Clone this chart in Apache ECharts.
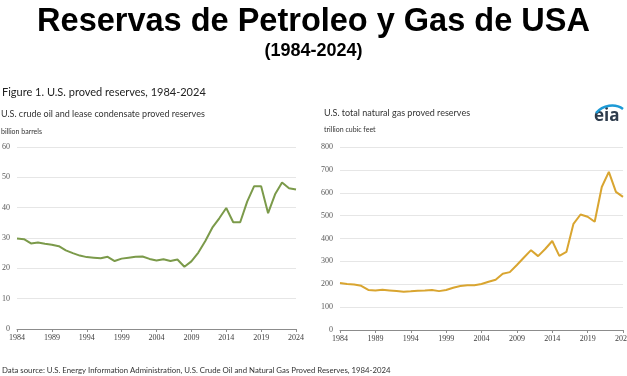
<!DOCTYPE html>
<html>
<head>
<meta charset="utf-8">
<script src="https://cdn.jsdelivr.net/npm/echarts@6/dist/echarts.min.js"></script>
<style>
  html, body { margin: 0; padding: 0; background: #fff; }
  #chart { width: 627px; height: 376px; }
</style>
</head>
<body>
<div id="chart"></div>
<script>
// years 1984..2024
var years = [];
for (var y = 1984; y <= 2024; y++) years.push(String(y));

// billion barrels
var oilReserves = [29.8, 29.6, 28.2, 28.5, 28.1, 27.8, 27.3, 25.9, 25.0, 24.2,
  23.7, 23.5, 23.3, 23.8, 22.4, 23.2, 23.5, 23.8, 23.9, 23.1,
  22.6, 23.0, 22.4, 22.9, 20.5, 22.3, 25.2, 29.0, 33.4, 36.5,
  39.9, 35.2, 35.2, 42.0, 47.1, 47.1, 38.2, 44.4, 48.3, 46.4, 46.0];

// trillion cubic feet
var gasReserves = [205, 201, 199, 193, 175, 173, 176, 173, 170, 167,
  169, 172, 173, 175, 170, 175, 185, 192, 196, 196,
  201, 211, 220, 246, 253, 284, 317, 349, 323, 354,
  389, 324, 341, 464, 505, 495, 473, 625, 691, 604, 582];

var labelFont = 'Liberation Serif';
var textFont = 'Lato';

function xAxisCfg(idx) {
  return {
    type: 'category',
    gridIndex: idx,
    data: years,
    boundaryGap: false,
    axisLine: { lineStyle: { color: '#8c8c8c', width: 1 } },
    axisTick: { show: true, interval: 4, length: 3, inside: false, lineStyle: { color: '#8c8c8c' } },
    axisLabel: { interval: 4, color: '#404040', fontSize: 8, fontFamily: labelFont, margin: 5 },
    splitLine: { show: false }
  };
}

function yAxisCfg(idx, max, step) {
  return {
    type: 'value',
    gridIndex: idx,
    min: 0,
    max: max,
    interval: step,
    axisLine: { show: false },
    axisTick: { show: false },
    axisLabel: { color: '#595959', fontSize: 8, fontFamily: labelFont, margin: 7 },
    splitLine: { lineStyle: { color: '#e6e6e6', width: 1 } }
  };
}

var chart = echarts.init(document.getElementById('chart'));
chart.setOption({
  animation: false,
  backgroundColor: '#fff',
  title: [
    {
      text: 'Reservas de Petroleo y Gas de USA',
      left: 'center', top: 1,
      textStyle: { fontSize: 32.5, fontWeight: 'bold', fontFamily: 'Liberation Sans', color: '#000' }
    },
    {
      text: '(1984-2024)',
      left: 'center', top: 37,
      textStyle: { fontSize: 18, fontWeight: 'bold', fontFamily: 'Liberation Sans', color: '#000' }
    },
    {
      text: 'Figure 1. U.S. proved reserves, 1984-2024',
      left: -3, top: 82,
      textStyle: { fontSize: 11, fontWeight: 'normal', fontFamily: textFont, color: '#222' }
    },
    {
      text: 'U.S. crude oil and lease condensate proved reserves',
      left: -4, top: 105,
      textStyle: { fontSize: 9, fontWeight: 'normal', fontFamily: textFont, color: '#333' }
    },
    {
      text: 'billion barrels',
      left: -4, top: 123,
      textStyle: { fontSize: 7, fontWeight: 'normal', fontFamily: textFont, color: '#333' }
    },
    {
      text: 'U.S. total natural gas proved reserves',
      left: 319, top: 104,
      textStyle: { fontSize: 9, fontWeight: 'normal', fontFamily: textFont, color: '#333' }
    },
    {
      text: 'trillion cubic feet',
      left: 319, top: 121,
      textStyle: { fontSize: 7, fontWeight: 'normal', fontFamily: textFont, color: '#333' }
    },
    {
      text: 'Data source: U.S. Energy Information Administration, U.S. Crude Oil and Natural Gas Proved Reserves, 1984-2024',
      left: -3, top: 361,
      textStyle: { fontSize: 7.8, fontWeight: 'normal', fontFamily: textFont, color: '#333' }
    }
  ],
  graphic: [
    {
      type: 'text', left: 594, top: 108,
      style: { text: 'eia', fontSize: 17, fontWeight: 'bold', fontFamily: 'Open Sans', fill: '#2e3c4c' }
    },
    {
      type: 'bezierCurve',
      shape: { x1: 596, y1: 113, x2: 623, y2: 109, cpx1: 603, cpy1: 105, cpx2: 615, cpy2: 103 },
      style: { stroke: '#1c9ad6', lineWidth: 2.5, fill: null }
    }
  ],
  grid: [
    { left: 17, right: 331, top: 147, bottom: 47, outerBoundsMode: 'none' },
    { left: 340, right: 4, top: 147, bottom: 46, outerBoundsMode: 'none' }
  ],
  xAxis: [xAxisCfg(0), xAxisCfg(1)],
  yAxis: [yAxisCfg(0, 60, 10), yAxisCfg(1, 800, 100)],
  series: [
    {
      name: 'oil', type: 'line', xAxisIndex: 0, yAxisIndex: 0,
      data: oilReserves, showSymbol: false,
      lineStyle: { color: '#7b9a4a', width: 2 }
    },
    {
      name: 'gas', type: 'line', xAxisIndex: 1, yAxisIndex: 1,
      data: gasReserves, showSymbol: false,
      lineStyle: { color: '#d9a530', width: 2 }
    }
  ]
});
</script>
</body>
</html>
